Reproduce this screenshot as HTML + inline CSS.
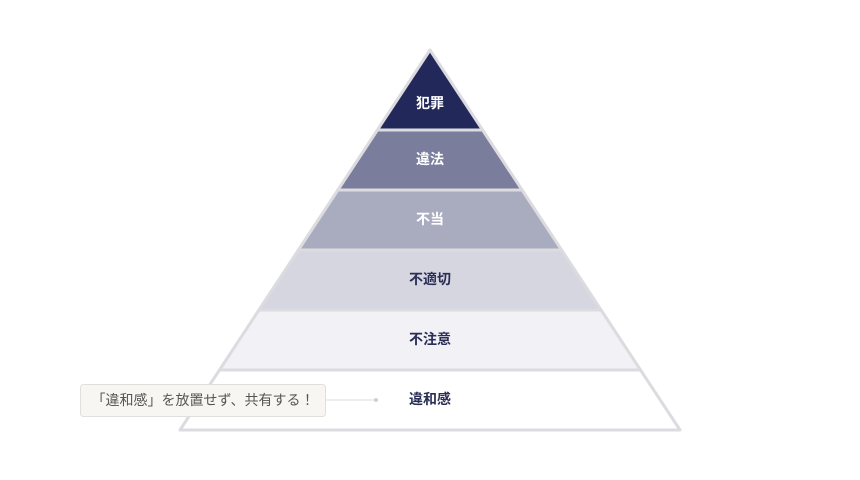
<!DOCTYPE html>
<html><head><meta charset="utf-8"><style>
body{margin:0;background:#fff;width:860px;height:480px;overflow:hidden;font-family:"Liberation Sans","Noto Sans CJK JP",sans-serif;}
</style></head><body>
<svg width="860" height="480" xmlns="http://www.w3.org/2000/svg" style="position:absolute;left:0;top:0">
<g stroke="#dcdce0" stroke-width="3" stroke-linejoin="round">
<polygon points="430,50 482.6,130 377.4,130" fill="#22295a"/>
<polygon points="377.4,130 482.6,130 522.1,190 337.9,190" fill="#7a7d9c"/>
<polygon points="337.9,190 522.1,190 561.6,250 298.4,250" fill="#a9abbf"/>
<polygon points="298.4,250 561.6,250 601.1,310 258.9,310" fill="#d5d6e0"/>
<polygon points="258.9,310 601.1,310 640.5,370 219.5,370" fill="#f1f1f6"/>
<polygon points="219.5,370 640.5,370 680,430 180,430" fill="#ffffff"/>
</g>
<g font-family="Liberation Sans, Noto Sans CJK JP, sans-serif" font-size="14" font-weight="bold" text-anchor="middle">
<text x="430" y="108" fill="#fff">犯罪</text>
<text x="430" y="164" fill="#fff">違法</text>
<text x="430" y="224" fill="#fff">不当</text>
<text x="430" y="284" fill="#2a2e55">不適切</text>
<text x="430" y="344" fill="#2a2e55">不注意</text>
<text x="430" y="404" fill="#2a2e55">違和感</text>
</g>
<line x1="326" y1="400" x2="375" y2="400" stroke="#dcdcdc" stroke-width="1"/>
<circle cx="376" cy="400" r="2" fill="#d0d0d0"/>
<rect x="80.5" y="384.5" width="245" height="32" rx="3" fill="#f7f6f3" stroke="#e0dfdc"/>
<text x="203" y="405" text-anchor="middle" font-family="Liberation Sans, Noto Sans CJK JP, sans-serif" font-size="14" fill="#555">「違和感」を放置せず、共有する！</text>
</svg>
</body></html>
